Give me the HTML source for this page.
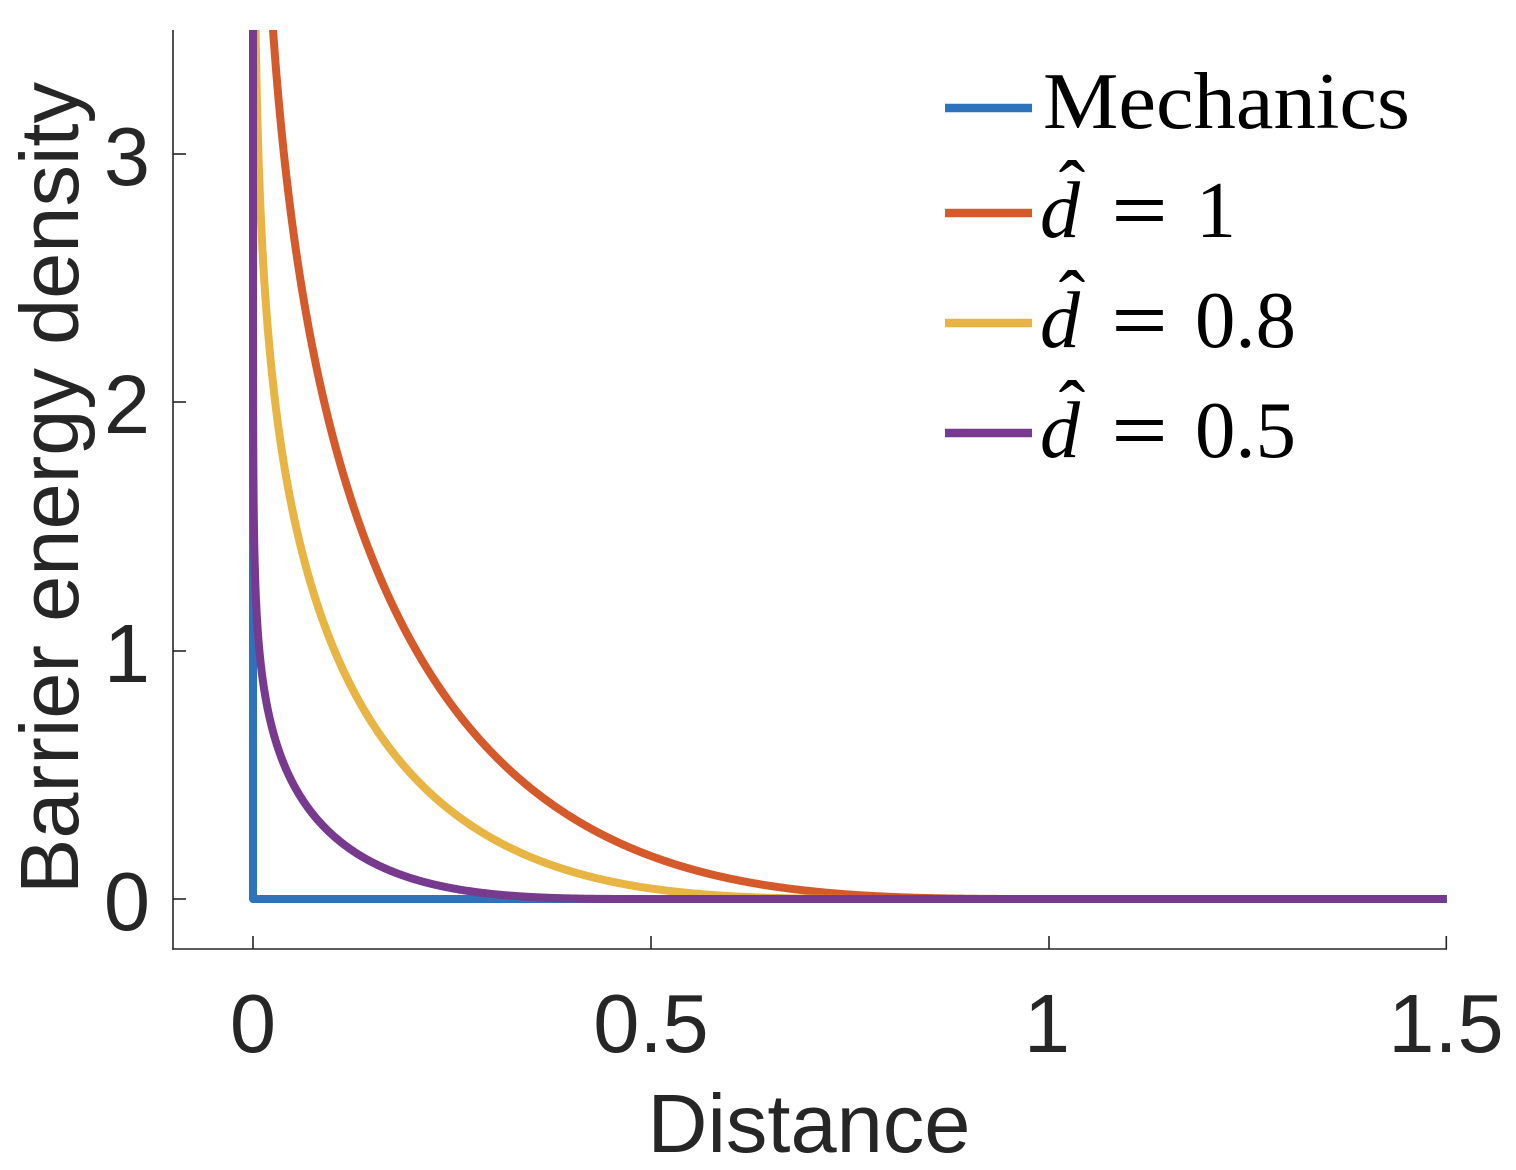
<!DOCTYPE html>
<html>
<head>
<meta charset="utf-8">
<style>
  html, body { margin: 0; padding: 0; background: #ffffff; }
  svg { display: block; }
  .tick { font-family: "Liberation Sans", Arial, sans-serif; font-size: 83px; fill: #262626; }
  .lab { font-family: "Liberation Sans", Arial, sans-serif; font-size: 83px; fill: #262626; }
  .leg { font-family: "Liberation Serif", "Times New Roman", serif; font-size: 80px; fill: #000; }
</style>
</head>
<body>
<svg id="chart" width="1516" height="1170" viewBox="0 0 1516 1170" xmlns="http://www.w3.org/2000/svg">
  <defs>
    <clipPath id="plotclip">
      <rect x="173" y="30" width="1274" height="919"/>
    </clipPath>
  </defs>
  <rect x="0" y="0" width="1516" height="1170" fill="#ffffff"/>

  <!-- series -->
  <g clip-path="url(#plotclip)" fill="none" stroke-width="8" stroke-linejoin="round">
    <path id="s0" stroke="#2e72bc" d="M253,-100 L253,899 L1447,899"/>
    <path id="s1" stroke="#d55a2b" d=""/>
    <path id="s2" stroke="#e8b443" d=""/>
    <path id="s3" stroke="#773a8e" d=""/>
  </g>

  <!-- axes -->
  <g stroke="#262626" stroke-width="1.6" fill="none">
    <line x1="173" y1="30" x2="173" y2="949.8"/>
    <line x1="172.2" y1="949" x2="1447" y2="949"/>
    <!-- y ticks -->
    <line x1="173" y1="154" x2="186" y2="154"/>
    <line x1="173" y1="402" x2="186" y2="402"/>
    <line x1="173" y1="651" x2="186" y2="651"/>
    <line x1="173" y1="899" x2="186" y2="899"/>
    <!-- x ticks -->
    <line x1="253" y1="949" x2="253" y2="936"/>
    <line x1="651" y1="949" x2="651" y2="936"/>
    <line x1="1049" y1="949" x2="1049" y2="936"/>
    <line x1="1446.3" y1="949" x2="1446.3" y2="936"/>
  </g>

  <!-- y tick labels -->
  <text class="tick" x="150" y="185" text-anchor="end">3</text>
  <text class="tick" x="150" y="433" text-anchor="end">2</text>
  <text class="tick" x="150" y="682" text-anchor="end">1</text>
  <text class="tick" x="150" y="930" text-anchor="end">0</text>

  <!-- x tick labels -->
  <text class="tick" x="253" y="1052" text-anchor="middle">0</text>
  <text class="tick" x="651" y="1052" text-anchor="middle">0.5</text>
  <text class="tick" x="1047" y="1052" text-anchor="middle">1</text>
  <text class="tick" x="1446" y="1052" text-anchor="middle">1.5</text>

  <!-- axis labels -->
  <text class="lab" x="809" y="1152" text-anchor="middle">Distance</text>
  <text class="lab" transform="translate(78,488) rotate(-90)" text-anchor="middle">Barrier energy density</text>

  <!-- legend -->
  <g stroke-width="8.5" fill="none">
    <line x1="945" y1="108" x2="1032" y2="108" stroke="#2e72bc"/>
    <line x1="945" y1="213" x2="1032" y2="213" stroke="#d55a2b"/>
    <line x1="945" y1="323" x2="1032" y2="323" stroke="#e8b443"/>
    <line x1="945" y1="433" x2="1032" y2="433" stroke="#773a8e"/>
  </g>

  <text class="leg" x="1043" y="128" textLength="367" lengthAdjust="spacingAndGlyphs">Mechanics</text>

  <!-- d hat = 1 -->
  <text class="leg" x="1040" y="237" font-style="italic">d</text>
  <text class="leg" x="1072" y="216" text-anchor="middle" font-size="76">ˆ</text>
  <text class="leg" x="1112" y="237" textLength="55" lengthAdjust="spacingAndGlyphs" stroke="#000" stroke-width="1">=</text>
  <text class="leg" x="1196" y="237">1</text>

  <!-- d hat = 0.8 -->
  <text class="leg" x="1040" y="347" font-style="italic">d</text>
  <text class="leg" x="1072" y="326" text-anchor="middle" font-size="76">ˆ</text>
  <text class="leg" x="1112" y="347" textLength="55" lengthAdjust="spacingAndGlyphs" stroke="#000" stroke-width="1">=</text>
  <text class="leg" x="1195" y="347" textLength="101" lengthAdjust="spacingAndGlyphs">0.8</text>

  <!-- d hat = 0.5 -->
  <text class="leg" x="1040" y="457" font-style="italic">d</text>
  <text class="leg" x="1072" y="436" text-anchor="middle" font-size="76">ˆ</text>
  <text class="leg" x="1112" y="457" textLength="55" lengthAdjust="spacingAndGlyphs" stroke="#000" stroke-width="1">=</text>
  <text class="leg" x="1195" y="457" textLength="101" lengthAdjust="spacingAndGlyphs">0.5</text>
</svg>
<script>
(function () {
  var X = function (d) { return 253 + 795.67 * d; };
  var Y = function (v) { return 899 - 248.33 * v; };
  function build(h) {
    var pts = [];
    for (var e = -10; e < -2; e += 0.02) {
      var d = Math.pow(10, e);
      if (d >= h) break;
      pts.push([d, -(h - d) * (h - d) * Math.log(d / h)]);
    }
    for (var d2 = 0.01; d2 < h; d2 += 0.001) {
      pts.push([d2, -(h - d2) * (h - d2) * Math.log(d2 / h)]);
    }
    pts.push([h, 0]);
    pts.push([1.5, 0]);
    var s = "M" + X(0).toFixed(2) + "," + Y(50).toFixed(2);
    for (var i = 0; i < pts.length; i++) {
      var v = Math.min(pts[i][1], 50);
      s += " L" + X(pts[i][0]).toFixed(2) + "," + Y(v).toFixed(2);
    }
    return s;
  }
  document.getElementById("s1").setAttribute("d", build(1.0));
  document.getElementById("s2").setAttribute("d", build(0.8));
  document.getElementById("s3").setAttribute("d", build(0.5));
})();
</script>
</body>
</html>
